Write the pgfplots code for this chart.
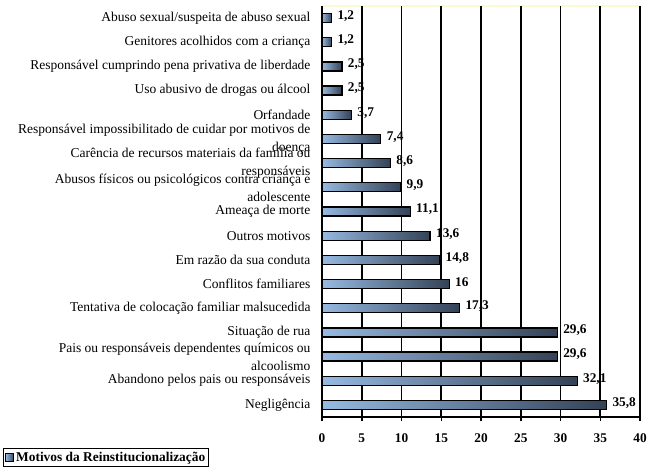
\documentclass[border=0pt]{standalone}
\usepackage{pgfplots}
\pgfplotsset{compat=1.18}
\usepackage{fontspec}
\setmainfont{Liberation Serif}

\definecolor{barlight}{RGB}{150,186,226}
\definecolor{bardark}{RGB}{52,66,86}
\definecolor{frameyellow}{RGB}{250,250,215}

\pgfplotsset{
  motivo/.style={draw=black, line width=1.3pt, left color=barlight, right color=bardark, bar shift=0pt},
}

\begin{document}
\begin{tikzpicture}
\useasboundingbox (0,0) rectangle (650pt,468pt);
\begin{axis}[
  at={(322pt,51pt)}, anchor=south west,
  scale only axis,
  width=318pt, height=411pt,
  xbar, bar width=9pt, bar shift=0pt,
  xmin=0, xmax=40,
  ymin=0.5, ymax=17.5,
  y dir=reverse,
  xtick={0,5,...,40},
  ytick={1,...,17},
  yticklabels={
    {Abuso sexual/suspeita de abuso sexual},
    {Genitores acolhidos com a criança},
    {Responsável cumprindo pena privativa de liberdade},
    {Uso abusivo de drogas ou álcool},
    {Orfandade},
    {Responsável impossibilitado de cuidar por motivos de\\doença},
    {Carência de recursos materiais da família ou\\responsáveis},
    {Abusos físicos ou psicológicos contra criança e\\adolescente},
    {Ameaça de morte},
    {Outros motivos},
    {Em razão da sua conduta},
    {Conflitos familiares},
    {Tentativa de colocação familiar malsucedida},
    {Situação de rua},
    {Pais ou responsáveis dependentes químicos ou\\alcoolismo},
    {Abandono pelos pais ou responsáveis},
    {Negligência}},
  yticklabel style={align=right, font=\fontsize{13.5}{18}\selectfont, xshift=-4pt},
  xticklabel style={font=\fontsize{13.3}{15}\selectfont\bfseries, yshift=-9pt},
  /pgf/number format/assume math mode=true,
  ytick style={draw=none},
  xtick style={black, line width=1.5pt},
  tick align=outside,
  major tick length=4pt,
  xmajorgrids,
  grid style={black, line width=1.8pt},
  separate axis lines,
  axis x line*=bottom,
  axis y line*=left,
  x axis line style={black, line width=1.5pt, -},
  y axis line style={black, line width=2.5pt, -},
  axis background/.style={fill=white, draw=frameyellow, line width=1.5pt},
  nodes near coords,
  point meta=explicit symbolic,
  nodes near coords style={anchor=west, font=\fontsize{13.3}{15}\selectfont\bfseries, yshift=2pt, xshift=2pt},
  legend style={at={(axis description cs:-1.003,-0.1217)}, anchor=south west,
    draw=black, line width=1.3pt, inner sep=1.5pt,
    font=\fontsize{13.4}{15}\selectfont\bfseries},
  legend image code/.code={\draw[#1, line width=1pt] (0pt,-4pt) rectangle (8pt,4pt);},
]
% uma barra por motivo, de cima para baixo
\addplot[motivo] coordinates {(1.2,1) [1,2]};
\addlegendentry{Motivos da Reinstitucionalização}
\addplot[motivo, forget plot] coordinates {(1.2,2) [1,2]};
\addplot[motivo, forget plot] coordinates {(2.5,3) [2,5]};
\addplot[motivo, forget plot] coordinates {(2.5,4) [2,5]};
\addplot[motivo, forget plot] coordinates {(3.7,5) [3,7]};
\addplot[motivo, forget plot] coordinates {(7.4,6) [7,4]};
\addplot[motivo, forget plot] coordinates {(8.6,7) [8,6]};
\addplot[motivo, forget plot] coordinates {(9.9,8) [9,9]};
\addplot[motivo, forget plot] coordinates {(11.1,9) [11,1]};
\addplot[motivo, forget plot] coordinates {(13.6,10) [13,6]};
\addplot[motivo, forget plot] coordinates {(14.8,11) [14,8]};
\addplot[motivo, forget plot] coordinates {(16,12) [16]};
\addplot[motivo, forget plot] coordinates {(17.3,13) [17,3]};
\addplot[motivo, forget plot] coordinates {(29.6,14) [29,6]};
\addplot[motivo, forget plot] coordinates {(29.6,15) [29,6]};
\addplot[motivo, forget plot] coordinates {(32.1,16) [32,1]};
\addplot[motivo, forget plot] coordinates {(35.8,17) [35,8]};
\end{axis}
\end{tikzpicture}
\end{document}
